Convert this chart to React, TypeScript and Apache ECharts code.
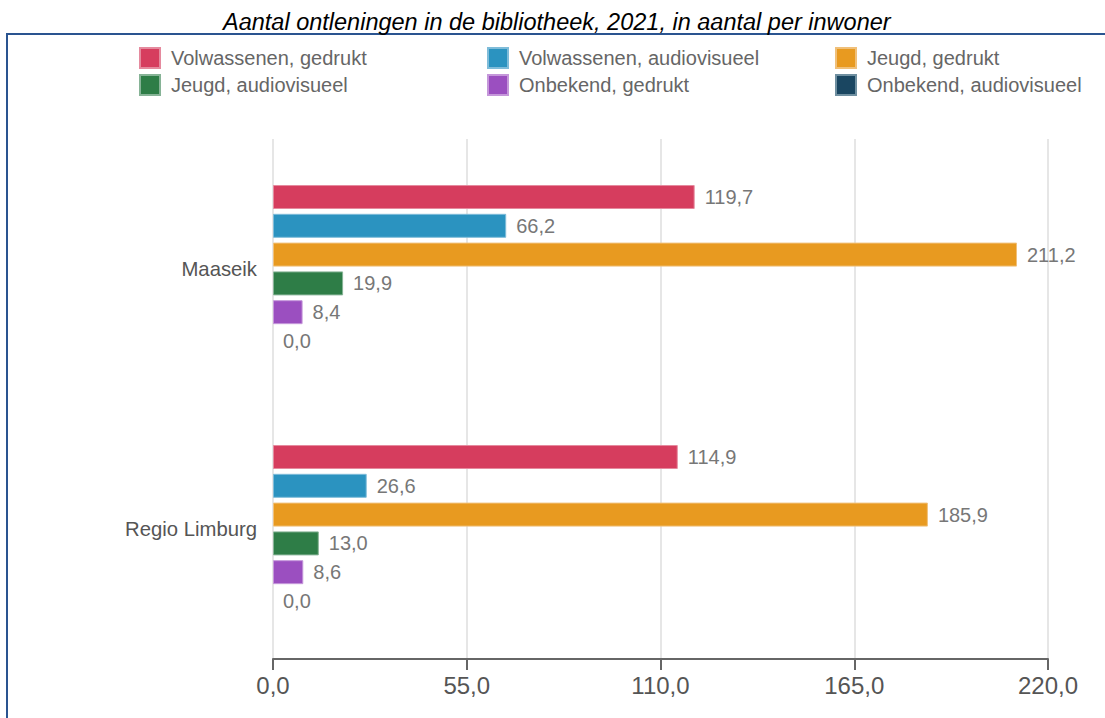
import React, { useEffect, useRef } from "react";
import * as echarts from "echarts";

const categories = ["Maaseik", "Regio Limburg"];
const seriesNames = [
  "Volwassenen, gedrukt",
  "Volwassenen, audiovisueel",
  "Jeugd, gedrukt",
  "Jeugd, audiovisueel",
  "Onbekend, gedrukt",
  "Onbekend, audiovisueel",
];
const volwGedrukt = [119.7, 114.9];
const volwAudio = [66.2, 26.6];
const jeugdGedrukt = [211.2, 185.9];
const jeugdAudio = [19.9, 13.0];
const onbGedrukt = [8.4, 8.6];
const onbAudio = [0.0, 0.0];
const seriesValues = [volwGedrukt, volwAudio, jeugdGedrukt, jeugdAudio, onbGedrukt, onbAudio];
const colors = ["#d63d5e", "#2b93c0", "#e89a20", "#2e7d47", "#9b4fc0", "#1a4661"];
const borderColors = ["#e58a9e", "#7fbcd9", "#f0c07a", "#86b396", "#c597da", "#6f8fa0"];

const fmt = (v: number) => v.toFixed(1).replace(".", ",");

export default function App() {
  const ref = useRef<HTMLDivElement>(null);
  useEffect(() => {
    document.body.style.margin = "0";
    const chart = echarts.init(ref.current!, undefined, { renderer: "svg" });
    const font = "'Liberation Sans', Arial, sans-serif";
    const legendCols = [
      { left: 139, items: [seriesNames[0], seriesNames[3]] },
      { left: 487, items: [seriesNames[1], seriesNames[4]] },
      { left: 835, items: [seriesNames[2], seriesNames[5]] },
    ];
    chart.setOption({
      animation: false,
      title: {
        text: "Aantal ontleningen in de bibliotheek, 2021, in aantal per inwoner",
        left: 218,
        top: 5,
        textStyle: {
          fontFamily: font,
          fontStyle: "italic",
          fontWeight: "normal",
          fontSize: 23.5,
          color: "#000",
        },
      },
      graphic: [
        {
          type: "rect",
          shape: { x: 7, y: 34, width: 1120, height: 720 },
          style: { fill: "none", stroke: "#2a5490", lineWidth: 2 },
          silent: true,
        },
      ],
      legend: legendCols.map((c) => ({
        orient: "vertical",
        left: c.left,
        top: 47,
        padding: 0,
        itemWidth: 20,
        itemHeight: 20,
        itemGap: 5,
        icon: "rect",
        data: c.items,
        textStyle: {
          fontFamily: font,
          fontSize: 20,
          lineHeight: 20,
          color: "#666",
          padding: [0, 0, 0, 6],
        },
      })),
      grid: { left: 273, right: 57, top: 139, bottom: 59 },
      xAxis: {
        type: "value",
        min: 0,
        max: 220,
        interval: 55,
        axisLine: { show: true, lineStyle: { color: "#666", width: 2 } },
        axisTick: { show: true, length: 11, lineStyle: { color: "#666", width: 2 } },
        axisLabel: {
          fontFamily: font,
          fontSize: 24,
          color: "#555",
          margin: 14,
          formatter: (v: number) => fmt(v),
        },
        splitLine: { show: true, lineStyle: { color: "#e6e6e6", width: 2 } },
      },
      yAxis: {
        type: "category",
        inverse: true,
        data: categories,
        axisLine: { show: false },
        axisTick: { show: false },
        axisLabel: { fontFamily: font, fontSize: 20.3, color: "#555", margin: 16 },
      },
      series: seriesNames.map((name, i) => ({
        name,
        type: "bar",
        data: seriesValues[i].map((v) => ({
          value: v,
          itemStyle: v === 0 ? { borderWidth: 0 } : undefined,
        })),
        barGap: "20%",
        barCategoryGap: "35.4%",
        itemStyle: { color: colors[i], borderColor: borderColors[i], borderWidth: 1 },
        label: {
          show: true,
          position: "right",
          distance: 10,
          fontFamily: font,
          fontSize: 20,
          color: "#777",
          formatter: (p: any) => fmt(p.value),
        },
      })),
    });
    return () => chart.dispose();
  }, []);
  return (
    <div
      ref={ref}
      style={{ position: "fixed", left: 0, top: 0, width: 1105, height: 718, background: "#fff" }}
    />
  );
}
